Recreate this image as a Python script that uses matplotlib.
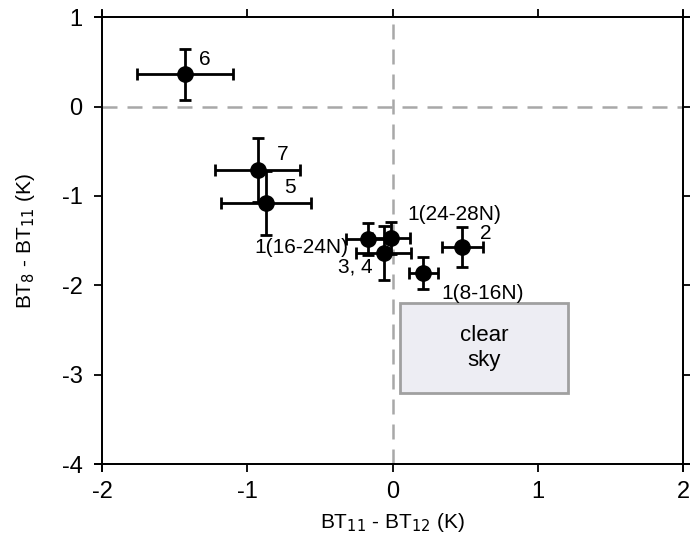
import matplotlib
matplotlib.use("Agg")
import matplotlib.pyplot as plt
from matplotlib.patches import Rectangle

plt.rcParams["font.family"] = ["Liberation Sans", "DejaVu Sans"]
plt.rcParams["axes.unicode_minus"] = False

# cases: BT11-BT12 (x) vs BT8-BT11 (y), with error bars
labels = ["6", "7", "5", "1(16-24N)", "1(24-28N)", "3, 4", "2", "1(8-16N)"]
x_vals = [-1.43, -0.93, -0.87, -0.17, -0.01, -0.06, 0.48, 0.21]
y_vals = [0.36, -0.71, -1.08, -1.48, -1.47, -1.64, -1.57, -1.86]
x_err = [0.33, 0.29, 0.31, 0.15, 0.13, 0.19, 0.14, 0.10]
y_err = [0.29, 0.36, 0.36, 0.18, 0.18, 0.30, 0.22, 0.18]

# label placement: offset in points + horizontal alignment
label_offsets = [(10, 11), (14, 11), (13, 11), (-14, -6), (12, 17), (-8, -10), (13, 10), (13, -15)]
label_ha = ["left", "left", "left", "right", "left", "right", "left", "left"]

# clear sky box (x0, x1, y0, y1)
clear_x = [0.05, 1.21]
clear_y = [-3.2, -2.2]

fig = plt.figure(figsize=(6.9, 5.39), dpi=100)
ax = fig.add_axes([0.148, 0.139, 0.842, 0.829])

ax.axhline(0, color="#a8a8a8", lw=1.8, ls=(0, (6, 4)), zorder=1)
ax.axvline(0, color="#a8a8a8", lw=1.8, ls=(0, (6, 4)), zorder=1)

ax.add_patch(Rectangle((clear_x[0], clear_y[0]), clear_x[1] - clear_x[0],
                       clear_y[1] - clear_y[0], facecolor="#ededf3",
                       edgecolor="#a0a0a0", lw=2, zorder=2))
ax.text(sum(clear_x) / 2, sum(clear_y) / 2, "clear\nsky", ha="center",
        va="center", fontsize=16, linespacing=1.3, zorder=3)

ax.errorbar(x_vals, y_vals, xerr=x_err, yerr=y_err, fmt="o", color="black",
            ms=11, elinewidth=2, capsize=4.5, capthick=2, zorder=4)

for lab, xv, yv, off, ha in zip(labels, x_vals, y_vals, label_offsets, label_ha):
    ax.annotate(lab, (xv, yv), xytext=off, textcoords="offset points",
                fontsize=15, ha=ha, va="center", zorder=5)

ax.set_xlim(-2, 2)
ax.set_ylim(-4, 1)
ax.set_xticks([-2, -1, 0, 1, 2])
ax.set_yticks([-4, -3, -2, -1, 0, 1])
ax.tick_params(direction="out", length=6, width=1.3, labelsize=17,
               top=True, right=True, pad=8)
ax.tick_params(axis="x", pad=6)
for s in ax.spines.values():
    s.set_linewidth(1.3)

# frame lines overshoot the corners a little
for yy in (0, 1):
    ax.plot([-0.012, 1.012], [yy, yy], transform=ax.transAxes, color="black",
            lw=1.3, clip_on=False, zorder=6)
for xx in (0, 1):
    ax.plot([xx, xx], [-0.015, 1.015], transform=ax.transAxes, color="black",
            lw=1.3, clip_on=False, zorder=6)

ax.set_xlabel("BT$_{11}$ - BT$_{12}$ (K)", fontsize=15, labelpad=6)
ax.set_ylabel("BT$_8$ - BT$_{11}$ (K)", fontsize=15, labelpad=18)

fig.savefig("out.png", dpi=100)
